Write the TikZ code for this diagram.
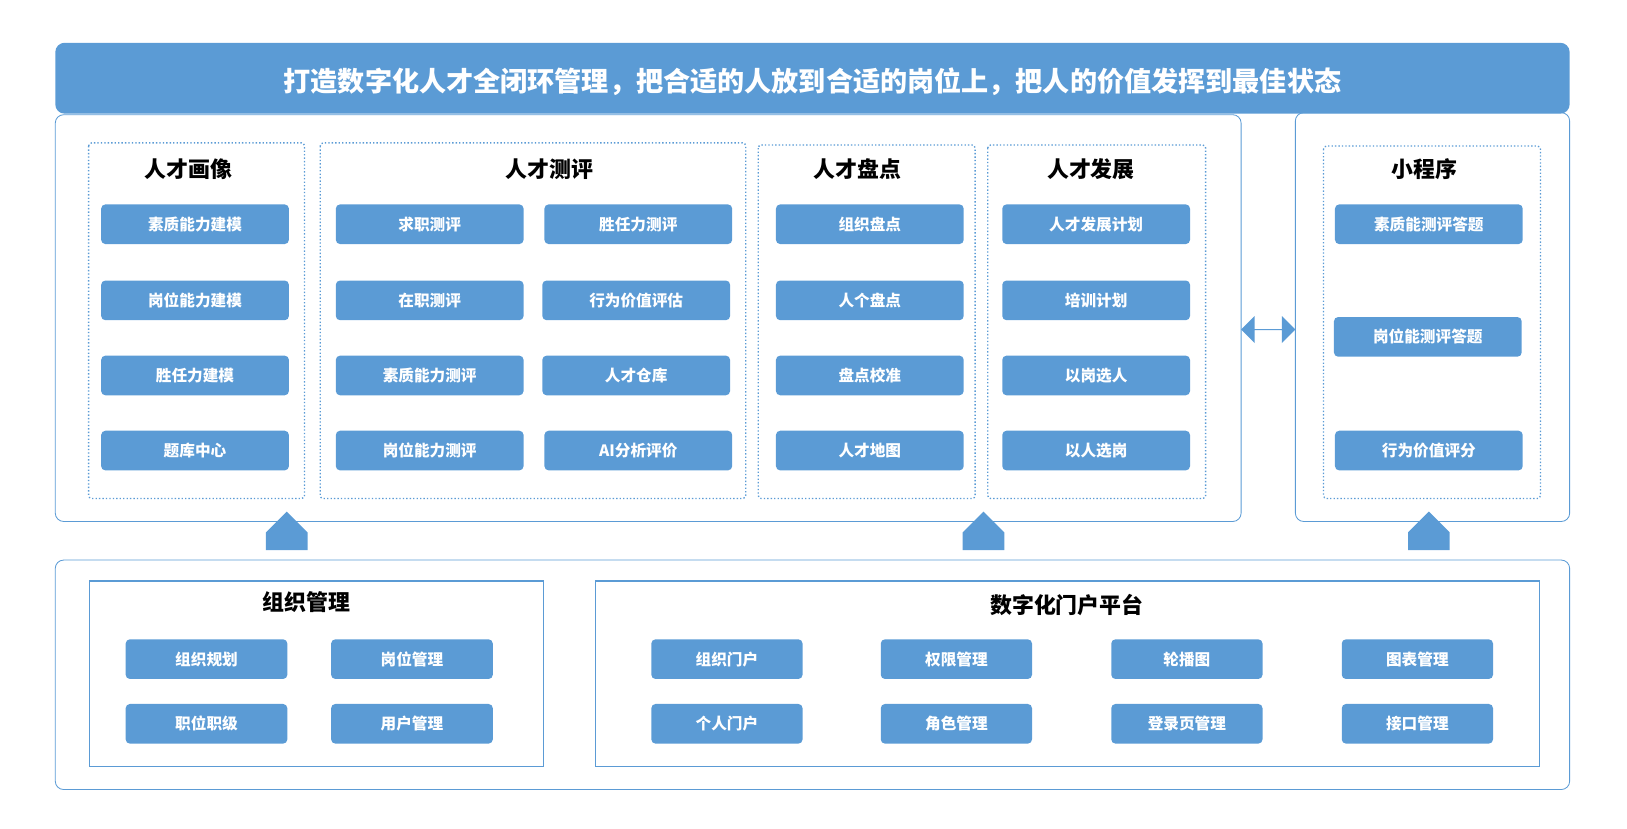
\documentclass[tikz,border=0pt]{standalone}
\usepackage{fontspec}
\setmainfont{Noto Sans CJK SC}
\usetikzlibrary{shapes.arrows}
\definecolor{bl}{HTML}{5B9BD5}
\begin{document}
\begin{tikzpicture}[x=1pt,y=-1pt,
 frame/.style={draw=bl,line width=0.8pt,rounded corners=8pt},
 grp/.style={draw=bl,line width=1.3pt,dotted,rounded corners=3pt},
 btn/.style={fill=bl,rounded corners=4pt,minimum width=180pt,minimum height=38pt,text=white,font=\bfseries\fontsize{15}{15}\selectfont,inner sep=0pt},
 sbtn/.style={btn,minimum width=155pt},
 pbtn/.style={btn,minimum width=145pt},
 ttl/.style={font=\bfseries\fontsize{21}{21}\selectfont},
 up/.style={fill=bl,single arrow,shape border rotate=90,minimum height=37pt,minimum width=40pt,single arrow head extend=0pt,inner sep=0pt,single arrow tip angle=90}]
\useasboundingbox (0,0) rectangle (1560,794);
\node[fill=bl,rounded corners=9pt,minimum width=1452pt,minimum height=68pt,inner sep=0pt] (hd) at (779,75) {};
\node[text=white,font=\bfseries\fontsize{26}{26}\selectfont] (ht) at (779,78) {打造数字化人才全闭环管理，把合适的人放到合适的岗位上，把人的价值发挥到最佳状态};
\draw[frame] (53,110) rectangle (1190,500);
\draw[frame] (1242,108) rectangle (1505,500);
\draw[grp] (85,137) rectangle (292,478);
\draw[grp] (307,137) rectangle (715,478);
\draw[grp] (727,139) rectangle (935,478);
\draw[grp] (947,139) rectangle (1156,478);
\draw[grp] (1269,140) rectangle (1477,478);
\node[ttl] (t1) at (181,162) {人才画像};
\node[ttl] (t2) at (527,162) {人才测评};
\node[ttl] (t3) at (822,162) {人才盘点};
\node[ttl] (t4) at (1046,162) {人才发展};
\node[ttl] (t5) at (1366,162) {小程序};
\foreach \n/\x/\y/\t in {a1/187/215/素质能力建模,a2/187/288/岗位能力建模,a3/187/360/胜任力建模,a4/187/432/题库中心,
 b1/412/215/求职测评,b2/412/288/在职测评,b3/412/360/素质能力测评,b4/412/432/岗位能力测评,
 c1/612/215/胜任力测评,c2/610/288/行为价值评估,c3/610/360/人才仓库,c4/612/432/AI分析评价,
 d1/834/215/组织盘点,d2/834/288/人个盘点,d3/834/360/盘点校准,d4/834/432/人才地图,
 e1/1051/215/人才发展计划,e2/1051/288/培训计划,e3/1051/360/以岗选人,e4/1051/432/以人选岗,
 f1/1370/215/素质能测评答题,f2/1369/323/岗位能测评答题,f3/1370/432/行为价值评分}
 \node[btn] (\n) at (\x,\y) {\t};
\draw[frame] (53,537) rectangle (1505,757);
\draw[bl,line width=1.3pt] (86,557) rectangle (521,735);
\draw[bl,line width=1.3pt] (571,557) rectangle (1476,735);
\node[ttl] (t6) at (294,577) {组织管理};
\node[ttl] (t7) at (1023,580) {数字化门户平台};
\foreach \n/\x/\y/\t in {g1/198/632/组织规划,g2/395/632/岗位管理,g3/198/694/职位职级,g4/395/694/用户管理}
 \node[sbtn] (\n) at (\x,\y) {\t};
\foreach \n/\x/\y/\t in {h1/697/632/组织门户,h2/917/632/权限管理,h3/1138/632/轮播图,h4/1359/632/图表管理,
 h5/697/694/个人门户,h6/917/694/角色管理,h7/1138/694/登录页管理,h8/1359/694/接口管理}
 \node[pbtn] (\n) at (\x,\y) {\t};
\node[up] (u1) at (275,519) {};
\node[up] (u2) at (943,519) {};
\node[up] (u3) at (1370,519) {};
\node[fill=bl,double arrow,minimum height=52pt,minimum width=26pt,double arrow head extend=6pt,inner sep=0pt,single arrow tip angle=90] (da) at (1216,316) {};
\end{tikzpicture}
\end{document}
